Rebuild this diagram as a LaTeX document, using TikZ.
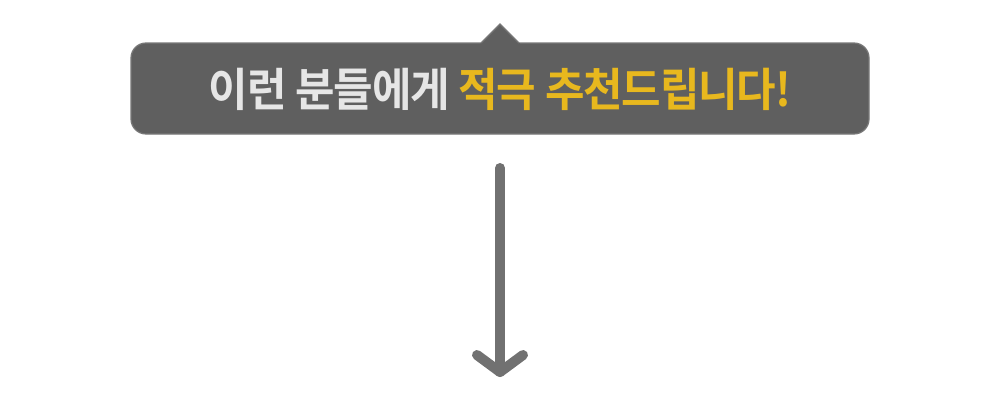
\documentclass[tikz,border=0pt]{standalone}
\usepackage{fontspec}
\newfontfamily\krfont[FakeStretch=0.94,LetterSpace=-2.5]{Noto Sans CJK KR Bold}
\definecolor{boxgray}{HTML}{5F5F5F}
\definecolor{edgegray}{HTML}{787878}
\definecolor{arrowgray}{HTML}{717171}
\definecolor{softwhite}{HTML}{E6E6E6}
\definecolor{hiyellow}{HTML}{E8B81E}
\tikzset{
  callout/.style={fill=boxgray, draw=edgegray, line width=0.7pt, rounded corners=0.3cm},
  pointer/.style={fill=boxgray, draw=edgegray, line width=0.7pt},
  downarrow/.style={draw=arrowgray, line width=0.2cm, line cap=round, line join=round}
}
\begin{document}
\begin{tikzpicture}[x=0.02cm,y=0.02cm]
\useasboundingbox (0,0) rectangle (1000,400);
% speech box with its pointer
\draw [callout] (131,266) rectangle (869,357);
\fill [boxgray] (480,356) -- (500,376) -- (520,356) -- cycle;
\draw [pointer] (481,357) -- (500,376) -- (519,357);
\node (title) at (500,311) {\krfont\fontsize{26}{31}\selectfont\color{softwhite}이런 분들에게 \color{hiyellow}적극 추천드립니다!};
% arrow down
\coordinate (top) at (500,232); \coordinate (tip) at (500,28);
\coordinate (wingl) at (477,45); \coordinate (wingr) at (523,45);
\draw [downarrow] (top) -- (tip);
\draw [downarrow] (wingl) -- (tip) -- (wingr);
\end{tikzpicture}
\end{document}
